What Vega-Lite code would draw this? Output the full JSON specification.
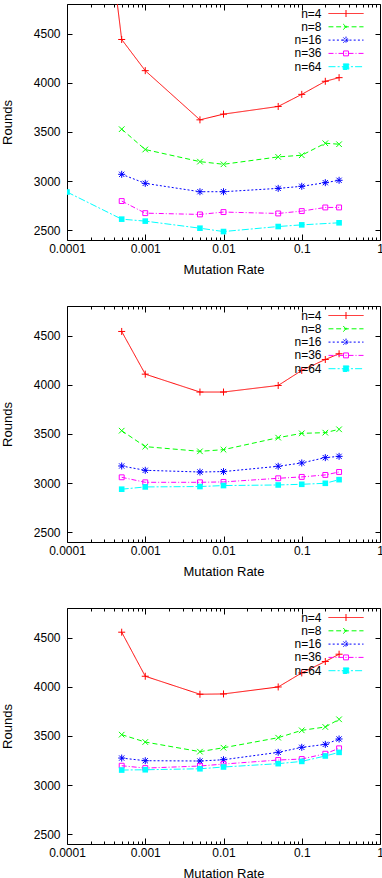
{
  "$schema": "https://vega.github.io/schema/vega-lite/v6.json",
  "padding": {"left": 0, "top": 3, "right": 0, "bottom": 0},
  "background": "white",
  "datasets": {
    "d": [
      {"p":1,"n":"n=4","r":0.0001,"y":8970},{"p":1,"n":"n=4","r":0.0005,"y":4439},{"p":1,"n":"n=4","r":0.001,"y":4122},{"p":1,"n":"n=4","r":0.005,"y":3622},{"p":1,"n":"n=4","r":0.01,"y":3680},{"p":1,"n":"n=4","r":0.05,"y":3758},{"p":1,"n":"n=4","r":0.1,"y":3881},{"p":1,"n":"n=4","r":0.2,"y":4014},{"p":1,"n":"n=4","r":0.3,"y":4051},
      {"p":1,"n":"n=8","r":0.0005,"y":3527},{"p":1,"n":"n=8","r":0.001,"y":3320},{"p":1,"n":"n=8","r":0.005,"y":3197},{"p":1,"n":"n=8","r":0.01,"y":3170},{"p":1,"n":"n=8","r":0.05,"y":3245},{"p":1,"n":"n=8","r":0.1,"y":3262},{"p":1,"n":"n=8","r":0.2,"y":3384},{"p":1,"n":"n=8","r":0.3,"y":3374},
      {"p":1,"n":"n=16","r":0.0005,"y":3068},{"p":1,"n":"n=16","r":0.001,"y":2976},{"p":1,"n":"n=16","r":0.005,"y":2891},{"p":1,"n":"n=16","r":0.01,"y":2891},{"p":1,"n":"n=16","r":0.05,"y":2925},{"p":1,"n":"n=16","r":0.1,"y":2946},{"p":1,"n":"n=16","r":0.2,"y":2983},{"p":1,"n":"n=16","r":0.3,"y":3007},
      {"p":1,"n":"n=36","r":0.0005,"y":2796},{"p":1,"n":"n=36","r":0.001,"y":2673},{"p":1,"n":"n=36","r":0.005,"y":2660},{"p":1,"n":"n=36","r":0.01,"y":2684},{"p":1,"n":"n=36","r":0.05,"y":2670},{"p":1,"n":"n=36","r":0.1,"y":2694},{"p":1,"n":"n=36","r":0.2,"y":2731},{"p":1,"n":"n=36","r":0.3,"y":2731},
      {"p":1,"n":"n=64","r":0.0001,"y":2888},{"p":1,"n":"n=64","r":0.0005,"y":2612},{"p":1,"n":"n=64","r":0.001,"y":2592},{"p":1,"n":"n=64","r":0.005,"y":2520},{"p":1,"n":"n=64","r":0.01,"y":2486},{"p":1,"n":"n=64","r":0.05,"y":2537},{"p":1,"n":"n=64","r":0.1,"y":2554},{"p":1,"n":"n=64","r":0.3,"y":2575},
      {"p":2,"n":"n=4","r":0.0005,"y":4541},{"p":2,"n":"n=4","r":0.001,"y":4107},{"p":2,"n":"n=4","r":0.005,"y":3925},{"p":2,"n":"n=4","r":0.01,"y":3925},{"p":2,"n":"n=4","r":0.05,"y":3992},{"p":2,"n":"n=4","r":0.1,"y":4145},{"p":2,"n":"n=4","r":0.2,"y":4256},{"p":2,"n":"n=4","r":0.3,"y":4314},
      {"p":2,"n":"n=8","r":0.0005,"y":3532},{"p":2,"n":"n=8","r":0.001,"y":3370},{"p":2,"n":"n=8","r":0.005,"y":3322},{"p":2,"n":"n=8","r":0.01,"y":3339},{"p":2,"n":"n=8","r":0.05,"y":3461},{"p":2,"n":"n=8","r":0.1,"y":3505},{"p":2,"n":"n=8","r":0.2,"y":3512},{"p":2,"n":"n=8","r":0.3,"y":3546},
      {"p":2,"n":"n=16","r":0.0005,"y":3173},{"p":2,"n":"n=16","r":0.001,"y":3129},{"p":2,"n":"n=16","r":0.005,"y":3112},{"p":2,"n":"n=16","r":0.01,"y":3116},{"p":2,"n":"n=16","r":0.05,"y":3170},{"p":2,"n":"n=16","r":0.1,"y":3204},{"p":2,"n":"n=16","r":0.2,"y":3258},{"p":2,"n":"n=16","r":0.3,"y":3271},
      {"p":2,"n":"n=36","r":0.0005,"y":3058},{"p":2,"n":"n=36","r":0.001,"y":3007},{"p":2,"n":"n=36","r":0.005,"y":3007},{"p":2,"n":"n=36","r":0.01,"y":3011},{"p":2,"n":"n=36","r":0.05,"y":3048},{"p":2,"n":"n=36","r":0.1,"y":3062},{"p":2,"n":"n=36","r":0.2,"y":3082},{"p":2,"n":"n=36","r":0.3,"y":3112},
      {"p":2,"n":"n=64","r":0.0005,"y":2937},{"p":2,"n":"n=64","r":0.001,"y":2960},{"p":2,"n":"n=64","r":0.005,"y":2964},{"p":2,"n":"n=64","r":0.01,"y":2974},{"p":2,"n":"n=64","r":0.05,"y":2980},{"p":2,"n":"n=64","r":0.1,"y":2987},{"p":2,"n":"n=64","r":0.2,"y":2997},{"p":2,"n":"n=64","r":0.3,"y":3034},
      {"p":3,"n":"n=4","r":0.0005,"y":4554},{"p":3,"n":"n=4","r":0.001,"y":4106},{"p":3,"n":"n=4","r":0.005,"y":3923},{"p":3,"n":"n=4","r":0.01,"y":3926},{"p":3,"n":"n=4","r":0.05,"y":3997},{"p":3,"n":"n=4","r":0.1,"y":4140},{"p":3,"n":"n=4","r":0.2,"y":4256},{"p":3,"n":"n=4","r":0.3,"y":4330},
      {"p":3,"n":"n=8","r":0.0005,"y":3512},{"p":3,"n":"n=8","r":0.001,"y":3437},{"p":3,"n":"n=8","r":0.005,"y":3339},{"p":3,"n":"n=8","r":0.01,"y":3379},{"p":3,"n":"n=8","r":0.05,"y":3481},{"p":3,"n":"n=8","r":0.1,"y":3556},{"p":3,"n":"n=8","r":0.2,"y":3590},{"p":3,"n":"n=8","r":0.3,"y":3668},
      {"p":3,"n":"n=16","r":0.0005,"y":3274},{"p":3,"n":"n=16","r":0.001,"y":3247},{"p":3,"n":"n=16","r":0.005,"y":3244},{"p":3,"n":"n=16","r":0.01,"y":3257},{"p":3,"n":"n=16","r":0.05,"y":3332},{"p":3,"n":"n=16","r":0.1,"y":3383},{"p":3,"n":"n=16","r":0.2,"y":3413},{"p":3,"n":"n=16","r":0.3,"y":3468},
      {"p":3,"n":"n=36","r":0.0005,"y":3196},{"p":3,"n":"n=36","r":0.001,"y":3172},{"p":3,"n":"n=36","r":0.005,"y":3193},{"p":3,"n":"n=36","r":0.01,"y":3213},{"p":3,"n":"n=36","r":0.05,"y":3254},{"p":3,"n":"n=36","r":0.1,"y":3264},{"p":3,"n":"n=36","r":0.2,"y":3318},{"p":3,"n":"n=36","r":0.3,"y":3373},
      {"p":3,"n":"n=64","r":0.0005,"y":3152},{"p":3,"n":"n=64","r":0.001,"y":3155},{"p":3,"n":"n=64","r":0.005,"y":3165},{"p":3,"n":"n=64","r":0.01,"y":3183},{"p":3,"n":"n=64","r":0.05,"y":3217},{"p":3,"n":"n=64","r":0.1,"y":3240},{"p":3,"n":"n=64","r":0.2,"y":3295},{"p":3,"n":"n=64","r":0.3,"y":3332}
    ]
  },
  "spacing": 28,
  "resolve": {"scale": {"color": "independent", "strokeDash": "independent"}, "legend": {"color": "independent", "strokeDash": "independent"}},
  "vconcat": [
    {
      "width": 313, "height": 236,
      "data": {"name": "d"},
      "transform": [{"filter": "datum.p == 1"}],
      "layer": [
        {"layer": [
          {"mark": {"type": "line", "strokeWidth": 1, "clip": true},
           "encoding": {
             "x": {"field": "r", "type": "quantitative", "scale": {"type": "log", "domain": [0.0001, 1], "nice": false}, "axis": {"orient": "bottom", "values": [0.0001, 0.001, 0.01, 0.1, 1], "format": "~g", "tickSize": -6, "labelPadding": 9, "title": "Mutation Rate", "titlePadding": 9}},
             "y": {"field": "y", "type": "quantitative", "scale": {"domain": [2400, 4800], "nice": false, "zero": false}, "axis": {"orient": "left", "values": [2500, 3000, 3500, 4000, 4500], "format": "d", "tickSize": -5, "labelPadding": 12, "title": "Rounds", "titlePadding": 19}},
             "color": {"field": "n", "type": "nominal", "scale": {"domain": ["n=4", "n=8", "n=16", "n=36", "n=64"], "range": ["#ff0000", "#00ff00", "#0000ff", "#ff00ff", "#00ffff"]},
               "legend": {"orient": "none", "legendX": 273, "legendY": 3.5, "title": null, "padding": 0, "symbolSize": 49, "symbolStrokeWidth": 1, "symbolOpacity": 1, "labelAlign": "right", "labelOffset": -30.5, "symbolOffset": 0, "rowPadding": 1.3, "labelFontSize": 12, "labelFont": "Liberation Sans", "labelColor": "black",
                 "symbolType": {"expr": "datum.value === 'n=4' ? 'M-5,0H5M0,-1V1' : datum.value === 'n=8' ? 'M-5,0H-3.6M-2.8,0H-1.4M-0.6,0H0.8M1.6,0H3M3.8,0H5M-0.8,-0.8L0.8,0.8M-0.8,0.8L0.8,-0.8' : datum.value === 'n=16' ? 'M-5,0H-4.4M-3.8,0H-3.2M-2.6,0H-2M-1.4,0H-0.8M-0.2,0H0.4M1,0H1.6M2.2,0H2.8M3.4,0H4M4.6,0H5M-1,0H1M0,-1V1M-0.75,-0.75L0.75,0.75M-0.75,0.75L0.75,-0.75' : datum.value === 'n=36' ? 'M-5,0H5M-0.7,-0.7H0.7M0.7,-0.7V0.7M0.7,0.7H-0.7M-0.7,0.7V-0.7' : 'M-5,0H-3M-2.4,0H-1.8M-1.2,0H0.8M1.4,0H2M2.6,0H4.6M-0.8,-0.8H0.8V0.8H-0.8Z'"},
                 "symbolFillColor": {"expr": "datum.value === 'n=64' ? '#00ffff' : 'transparent'"}}},
             "strokeDash": {"field": "n", "type": "nominal", "scale": {"domain": ["n=4", "n=8", "n=16", "n=36", "n=64"], "range": [[1, 0], [5, 3], [2, 2], [5, 2, 1, 2], [7, 2, 2, 2]]}, "legend": null}
           }},
          {"mark": {"type": "point", "shape": "M-1,0H1M0,-1V1", "filled": false, "color": "#ff0000", "strokeWidth": 1, "size": 49, "opacity": 1, "clip": true},
           "transform": [{"filter": "datum.n == 'n=4'"}],
           "encoding": {"x": {"field": "r", "type": "quantitative"}, "y": {"field": "y", "type": "quantitative"}}},
          {"mark": {"type": "point", "shape": "M-0.8,-0.8L0.8,0.8M-0.8,0.8L0.8,-0.8", "filled": false, "color": "#00ff00", "strokeWidth": 1, "size": 49, "opacity": 1, "clip": true},
           "transform": [{"filter": "datum.n == 'n=8'"}],
           "encoding": {"x": {"field": "r", "type": "quantitative"}, "y": {"field": "y", "type": "quantitative"}}},
          {"mark": {"type": "point", "shape": "M-1,0H1M0,-1V1M-0.75,-0.75L0.75,0.75M-0.75,0.75L0.75,-0.75", "filled": false, "color": "#0000ff", "strokeWidth": 1, "size": 49, "opacity": 1, "clip": true},
           "transform": [{"filter": "datum.n == 'n=16'"}],
           "encoding": {"x": {"field": "r", "type": "quantitative"}, "y": {"field": "y", "type": "quantitative"}}},
          {"mark": {"type": "point", "shape": "M-0.7,-0.7H0.7V0.7H-0.7Z", "filled": false, "color": "#ff00ff", "strokeWidth": 1, "size": 49, "opacity": 1, "clip": true},
           "transform": [{"filter": "datum.n == 'n=36'"}],
           "encoding": {"x": {"field": "r", "type": "quantitative"}, "y": {"field": "y", "type": "quantitative"}}},
          {"mark": {"type": "point", "shape": "M-0.8,-0.8H0.8V0.8H-0.8Z", "filled": true, "color": "#00ffff", "size": 49, "opacity": 1, "clip": true},
           "transform": [{"filter": "datum.n == 'n=64'"}],
           "encoding": {"x": {"field": "r", "type": "quantitative"}, "y": {"field": "y", "type": "quantitative"}}}
        ]},
        {"mark": {"type": "point", "opacity": 0, "clip": true},
         "encoding": {
           "x": {"field": "r", "type": "quantitative", "axis": {"orient": "top", "values": [0.0001, 0.001, 0.01, 0.1, 1], "labels": false, "tickSize": -6, "title": null}},
           "y": {"field": "y", "type": "quantitative", "axis": {"orient": "right", "values": [2500, 3000, 3500, 4000, 4500], "labels": false, "tickSize": -5, "title": null}}
         }},
        {"mark": {"type": "point", "opacity": 0, "clip": true},
         "encoding": {
           "x": {"field": "r", "type": "quantitative", "axis": {"orient": "bottom", "values": [0.0002,0.0003,0.0004,0.0005,0.0006,0.0007,0.0008,0.0009,0.002,0.003,0.004,0.005,0.006,0.007,0.008,0.009,0.02,0.03,0.04,0.05,0.06,0.07,0.08,0.09,0.2,0.3,0.4,0.5,0.6,0.7,0.8,0.9], "labels": false, "tickSize": -3, "title": null}},
           "y": {"field": "y", "type": "quantitative", "axis": null}
         }},
        {"mark": {"type": "point", "opacity": 0, "clip": true},
         "encoding": {
           "x": {"field": "r", "type": "quantitative", "axis": {"orient": "top", "values": [0.0002,0.0003,0.0004,0.0005,0.0006,0.0007,0.0008,0.0009,0.002,0.003,0.004,0.005,0.006,0.007,0.008,0.009,0.02,0.03,0.04,0.05,0.06,0.07,0.08,0.09,0.2,0.3,0.4,0.5,0.6,0.7,0.8,0.9], "labels": false, "tickSize": -3, "title": null}},
           "y": {"field": "y", "type": "quantitative", "axis": null}
         }}
      ],
      "resolve": {"axis": {"x": "independent", "y": "independent"}}
    },
    {
      "width": 313, "height": 236,
      "data": {"name": "d"},
      "transform": [{"filter": "datum.p == 2"}],
      "layer": [
        {"layer": [
          {"mark": {"type": "line", "strokeWidth": 1, "clip": true},
           "encoding": {
             "x": {"field": "r", "type": "quantitative", "scale": {"type": "log", "domain": [0.0001, 1], "nice": false}, "axis": {"orient": "bottom", "values": [0.0001, 0.001, 0.01, 0.1, 1], "format": "~g", "tickSize": -6, "labelPadding": 9, "title": "Mutation Rate", "titlePadding": 9}},
             "y": {"field": "y", "type": "quantitative", "scale": {"domain": [2400, 4800], "nice": false, "zero": false}, "axis": {"orient": "left", "values": [2500, 3000, 3500, 4000, 4500], "format": "d", "tickSize": -5, "labelPadding": 12, "title": "Rounds", "titlePadding": 19}},
             "color": {"field": "n", "type": "nominal", "scale": {"domain": ["n=4", "n=8", "n=16", "n=36", "n=64"], "range": ["#ff0000", "#00ff00", "#0000ff", "#ff00ff", "#00ffff"]},
               "legend": {"orient": "none", "legendX": 273, "legendY": 3.5, "title": null, "padding": 0, "symbolSize": 49, "symbolStrokeWidth": 1, "symbolOpacity": 1, "labelAlign": "right", "labelOffset": -30.5, "symbolOffset": 0, "rowPadding": 1.3, "labelFontSize": 12, "labelFont": "Liberation Sans", "labelColor": "black",
                 "symbolType": {"expr": "datum.value === 'n=4' ? 'M-5,0H5M0,-1V1' : datum.value === 'n=8' ? 'M-5,0H-3.6M-2.8,0H-1.4M-0.6,0H0.8M1.6,0H3M3.8,0H5M-0.8,-0.8L0.8,0.8M-0.8,0.8L0.8,-0.8' : datum.value === 'n=16' ? 'M-5,0H-4.4M-3.8,0H-3.2M-2.6,0H-2M-1.4,0H-0.8M-0.2,0H0.4M1,0H1.6M2.2,0H2.8M3.4,0H4M4.6,0H5M-1,0H1M0,-1V1M-0.75,-0.75L0.75,0.75M-0.75,0.75L0.75,-0.75' : datum.value === 'n=36' ? 'M-5,0H5M-0.7,-0.7H0.7M0.7,-0.7V0.7M0.7,0.7H-0.7M-0.7,0.7V-0.7' : 'M-5,0H-3M-2.4,0H-1.8M-1.2,0H0.8M1.4,0H2M2.6,0H4.6M-0.8,-0.8H0.8V0.8H-0.8Z'"},
                 "symbolFillColor": {"expr": "datum.value === 'n=64' ? '#00ffff' : 'transparent'"}}},
             "strokeDash": {"field": "n", "type": "nominal", "scale": {"domain": ["n=4", "n=8", "n=16", "n=36", "n=64"], "range": [[1, 0], [5, 3], [2, 2], [5, 2, 1, 2], [7, 2, 2, 2]]}, "legend": null}
           }},
          {"mark": {"type": "point", "shape": "M-1,0H1M0,-1V1", "filled": false, "color": "#ff0000", "strokeWidth": 1, "size": 49, "opacity": 1, "clip": true},
           "transform": [{"filter": "datum.n == 'n=4'"}],
           "encoding": {"x": {"field": "r", "type": "quantitative"}, "y": {"field": "y", "type": "quantitative"}}},
          {"mark": {"type": "point", "shape": "M-0.8,-0.8L0.8,0.8M-0.8,0.8L0.8,-0.8", "filled": false, "color": "#00ff00", "strokeWidth": 1, "size": 49, "opacity": 1, "clip": true},
           "transform": [{"filter": "datum.n == 'n=8'"}],
           "encoding": {"x": {"field": "r", "type": "quantitative"}, "y": {"field": "y", "type": "quantitative"}}},
          {"mark": {"type": "point", "shape": "M-1,0H1M0,-1V1M-0.75,-0.75L0.75,0.75M-0.75,0.75L0.75,-0.75", "filled": false, "color": "#0000ff", "strokeWidth": 1, "size": 49, "opacity": 1, "clip": true},
           "transform": [{"filter": "datum.n == 'n=16'"}],
           "encoding": {"x": {"field": "r", "type": "quantitative"}, "y": {"field": "y", "type": "quantitative"}}},
          {"mark": {"type": "point", "shape": "M-0.7,-0.7H0.7V0.7H-0.7Z", "filled": false, "color": "#ff00ff", "strokeWidth": 1, "size": 49, "opacity": 1, "clip": true},
           "transform": [{"filter": "datum.n == 'n=36'"}],
           "encoding": {"x": {"field": "r", "type": "quantitative"}, "y": {"field": "y", "type": "quantitative"}}},
          {"mark": {"type": "point", "shape": "M-0.8,-0.8H0.8V0.8H-0.8Z", "filled": true, "color": "#00ffff", "size": 49, "opacity": 1, "clip": true},
           "transform": [{"filter": "datum.n == 'n=64'"}],
           "encoding": {"x": {"field": "r", "type": "quantitative"}, "y": {"field": "y", "type": "quantitative"}}}
        ]},
        {"mark": {"type": "point", "opacity": 0, "clip": true},
         "encoding": {
           "x": {"field": "r", "type": "quantitative", "axis": {"orient": "top", "values": [0.0001, 0.001, 0.01, 0.1, 1], "labels": false, "tickSize": -6, "title": null}},
           "y": {"field": "y", "type": "quantitative", "axis": {"orient": "right", "values": [2500, 3000, 3500, 4000, 4500], "labels": false, "tickSize": -5, "title": null}}
         }},
        {"mark": {"type": "point", "opacity": 0, "clip": true},
         "encoding": {
           "x": {"field": "r", "type": "quantitative", "axis": {"orient": "bottom", "values": [0.0002,0.0003,0.0004,0.0005,0.0006,0.0007,0.0008,0.0009,0.002,0.003,0.004,0.005,0.006,0.007,0.008,0.009,0.02,0.03,0.04,0.05,0.06,0.07,0.08,0.09,0.2,0.3,0.4,0.5,0.6,0.7,0.8,0.9], "labels": false, "tickSize": -3, "title": null}},
           "y": {"field": "y", "type": "quantitative", "axis": null}
         }},
        {"mark": {"type": "point", "opacity": 0, "clip": true},
         "encoding": {
           "x": {"field": "r", "type": "quantitative", "axis": {"orient": "top", "values": [0.0002,0.0003,0.0004,0.0005,0.0006,0.0007,0.0008,0.0009,0.002,0.003,0.004,0.005,0.006,0.007,0.008,0.009,0.02,0.03,0.04,0.05,0.06,0.07,0.08,0.09,0.2,0.3,0.4,0.5,0.6,0.7,0.8,0.9], "labels": false, "tickSize": -3, "title": null}},
           "y": {"field": "y", "type": "quantitative", "axis": null}
         }}
      ],
      "resolve": {"axis": {"x": "independent", "y": "independent"}}
    },
    {
      "width": 313, "height": 236,
      "data": {"name": "d"},
      "transform": [{"filter": "datum.p == 3"}],
      "layer": [
        {"layer": [
          {"mark": {"type": "line", "strokeWidth": 1, "clip": true},
           "encoding": {
             "x": {"field": "r", "type": "quantitative", "scale": {"type": "log", "domain": [0.0001, 1], "nice": false}, "axis": {"orient": "bottom", "values": [0.0001, 0.001, 0.01, 0.1, 1], "format": "~g", "tickSize": -6, "labelPadding": 9, "title": "Mutation Rate", "titlePadding": 9}},
             "y": {"field": "y", "type": "quantitative", "scale": {"domain": [2400, 4800], "nice": false, "zero": false}, "axis": {"orient": "left", "values": [2500, 3000, 3500, 4000, 4500], "format": "d", "tickSize": -5, "labelPadding": 12, "title": "Rounds", "titlePadding": 19}},
             "color": {"field": "n", "type": "nominal", "scale": {"domain": ["n=4", "n=8", "n=16", "n=36", "n=64"], "range": ["#ff0000", "#00ff00", "#0000ff", "#ff00ff", "#00ffff"]},
               "legend": {"orient": "none", "legendX": 273, "legendY": 3.5, "title": null, "padding": 0, "symbolSize": 49, "symbolStrokeWidth": 1, "symbolOpacity": 1, "labelAlign": "right", "labelOffset": -30.5, "symbolOffset": 0, "rowPadding": 1.3, "labelFontSize": 12, "labelFont": "Liberation Sans", "labelColor": "black",
                 "symbolType": {"expr": "datum.value === 'n=4' ? 'M-5,0H5M0,-1V1' : datum.value === 'n=8' ? 'M-5,0H-3.6M-2.8,0H-1.4M-0.6,0H0.8M1.6,0H3M3.8,0H5M-0.8,-0.8L0.8,0.8M-0.8,0.8L0.8,-0.8' : datum.value === 'n=16' ? 'M-5,0H-4.4M-3.8,0H-3.2M-2.6,0H-2M-1.4,0H-0.8M-0.2,0H0.4M1,0H1.6M2.2,0H2.8M3.4,0H4M4.6,0H5M-1,0H1M0,-1V1M-0.75,-0.75L0.75,0.75M-0.75,0.75L0.75,-0.75' : datum.value === 'n=36' ? 'M-5,0H5M-0.7,-0.7H0.7M0.7,-0.7V0.7M0.7,0.7H-0.7M-0.7,0.7V-0.7' : 'M-5,0H-3M-2.4,0H-1.8M-1.2,0H0.8M1.4,0H2M2.6,0H4.6M-0.8,-0.8H0.8V0.8H-0.8Z'"},
                 "symbolFillColor": {"expr": "datum.value === 'n=64' ? '#00ffff' : 'transparent'"}}},
             "strokeDash": {"field": "n", "type": "nominal", "scale": {"domain": ["n=4", "n=8", "n=16", "n=36", "n=64"], "range": [[1, 0], [5, 3], [2, 2], [5, 2, 1, 2], [7, 2, 2, 2]]}, "legend": null}
           }},
          {"mark": {"type": "point", "shape": "M-1,0H1M0,-1V1", "filled": false, "color": "#ff0000", "strokeWidth": 1, "size": 49, "opacity": 1, "clip": true},
           "transform": [{"filter": "datum.n == 'n=4'"}],
           "encoding": {"x": {"field": "r", "type": "quantitative"}, "y": {"field": "y", "type": "quantitative"}}},
          {"mark": {"type": "point", "shape": "M-0.8,-0.8L0.8,0.8M-0.8,0.8L0.8,-0.8", "filled": false, "color": "#00ff00", "strokeWidth": 1, "size": 49, "opacity": 1, "clip": true},
           "transform": [{"filter": "datum.n == 'n=8'"}],
           "encoding": {"x": {"field": "r", "type": "quantitative"}, "y": {"field": "y", "type": "quantitative"}}},
          {"mark": {"type": "point", "shape": "M-1,0H1M0,-1V1M-0.75,-0.75L0.75,0.75M-0.75,0.75L0.75,-0.75", "filled": false, "color": "#0000ff", "strokeWidth": 1, "size": 49, "opacity": 1, "clip": true},
           "transform": [{"filter": "datum.n == 'n=16'"}],
           "encoding": {"x": {"field": "r", "type": "quantitative"}, "y": {"field": "y", "type": "quantitative"}}},
          {"mark": {"type": "point", "shape": "M-0.7,-0.7H0.7V0.7H-0.7Z", "filled": false, "color": "#ff00ff", "strokeWidth": 1, "size": 49, "opacity": 1, "clip": true},
           "transform": [{"filter": "datum.n == 'n=36'"}],
           "encoding": {"x": {"field": "r", "type": "quantitative"}, "y": {"field": "y", "type": "quantitative"}}},
          {"mark": {"type": "point", "shape": "M-0.8,-0.8H0.8V0.8H-0.8Z", "filled": true, "color": "#00ffff", "size": 49, "opacity": 1, "clip": true},
           "transform": [{"filter": "datum.n == 'n=64'"}],
           "encoding": {"x": {"field": "r", "type": "quantitative"}, "y": {"field": "y", "type": "quantitative"}}}
        ]},
        {"mark": {"type": "point", "opacity": 0, "clip": true},
         "encoding": {
           "x": {"field": "r", "type": "quantitative", "axis": {"orient": "top", "values": [0.0001, 0.001, 0.01, 0.1, 1], "labels": false, "tickSize": -6, "title": null}},
           "y": {"field": "y", "type": "quantitative", "axis": {"orient": "right", "values": [2500, 3000, 3500, 4000, 4500], "labels": false, "tickSize": -5, "title": null}}
         }},
        {"mark": {"type": "point", "opacity": 0, "clip": true},
         "encoding": {
           "x": {"field": "r", "type": "quantitative", "axis": {"orient": "bottom", "values": [0.0002,0.0003,0.0004,0.0005,0.0006,0.0007,0.0008,0.0009,0.002,0.003,0.004,0.005,0.006,0.007,0.008,0.009,0.02,0.03,0.04,0.05,0.06,0.07,0.08,0.09,0.2,0.3,0.4,0.5,0.6,0.7,0.8,0.9], "labels": false, "tickSize": -3, "title": null}},
           "y": {"field": "y", "type": "quantitative", "axis": null}
         }},
        {"mark": {"type": "point", "opacity": 0, "clip": true},
         "encoding": {
           "x": {"field": "r", "type": "quantitative", "axis": {"orient": "top", "values": [0.0002,0.0003,0.0004,0.0005,0.0006,0.0007,0.0008,0.0009,0.002,0.003,0.004,0.005,0.006,0.007,0.008,0.009,0.02,0.03,0.04,0.05,0.06,0.07,0.08,0.09,0.2,0.3,0.4,0.5,0.6,0.7,0.8,0.9], "labels": false, "tickSize": -3, "title": null}},
           "y": {"field": "y", "type": "quantitative", "axis": null}
         }}
      ],
      "resolve": {"axis": {"x": "independent", "y": "independent"}}
    }
  ],
  "config": {
    "font": "Liberation Sans",
    "view": {"stroke": "black", "strokeWidth": 1},
    "axis": {"labelFont": "Liberation Sans", "labelFontSize": 12, "labelColor": "black", "titleFont": "Liberation Sans", "titleFontSize": 13, "titleFontWeight": "normal", "titleColor": "black", "tickColor": "black", "tickWidth": 1, "domain": false, "grid": false, "labelFlush": false, "labelOverlap": false, "labelBound": false},
    "legend": {"labelFont": "Liberation Sans", "labelFontSize": 12, "labelColor": "black"}
  }
}
